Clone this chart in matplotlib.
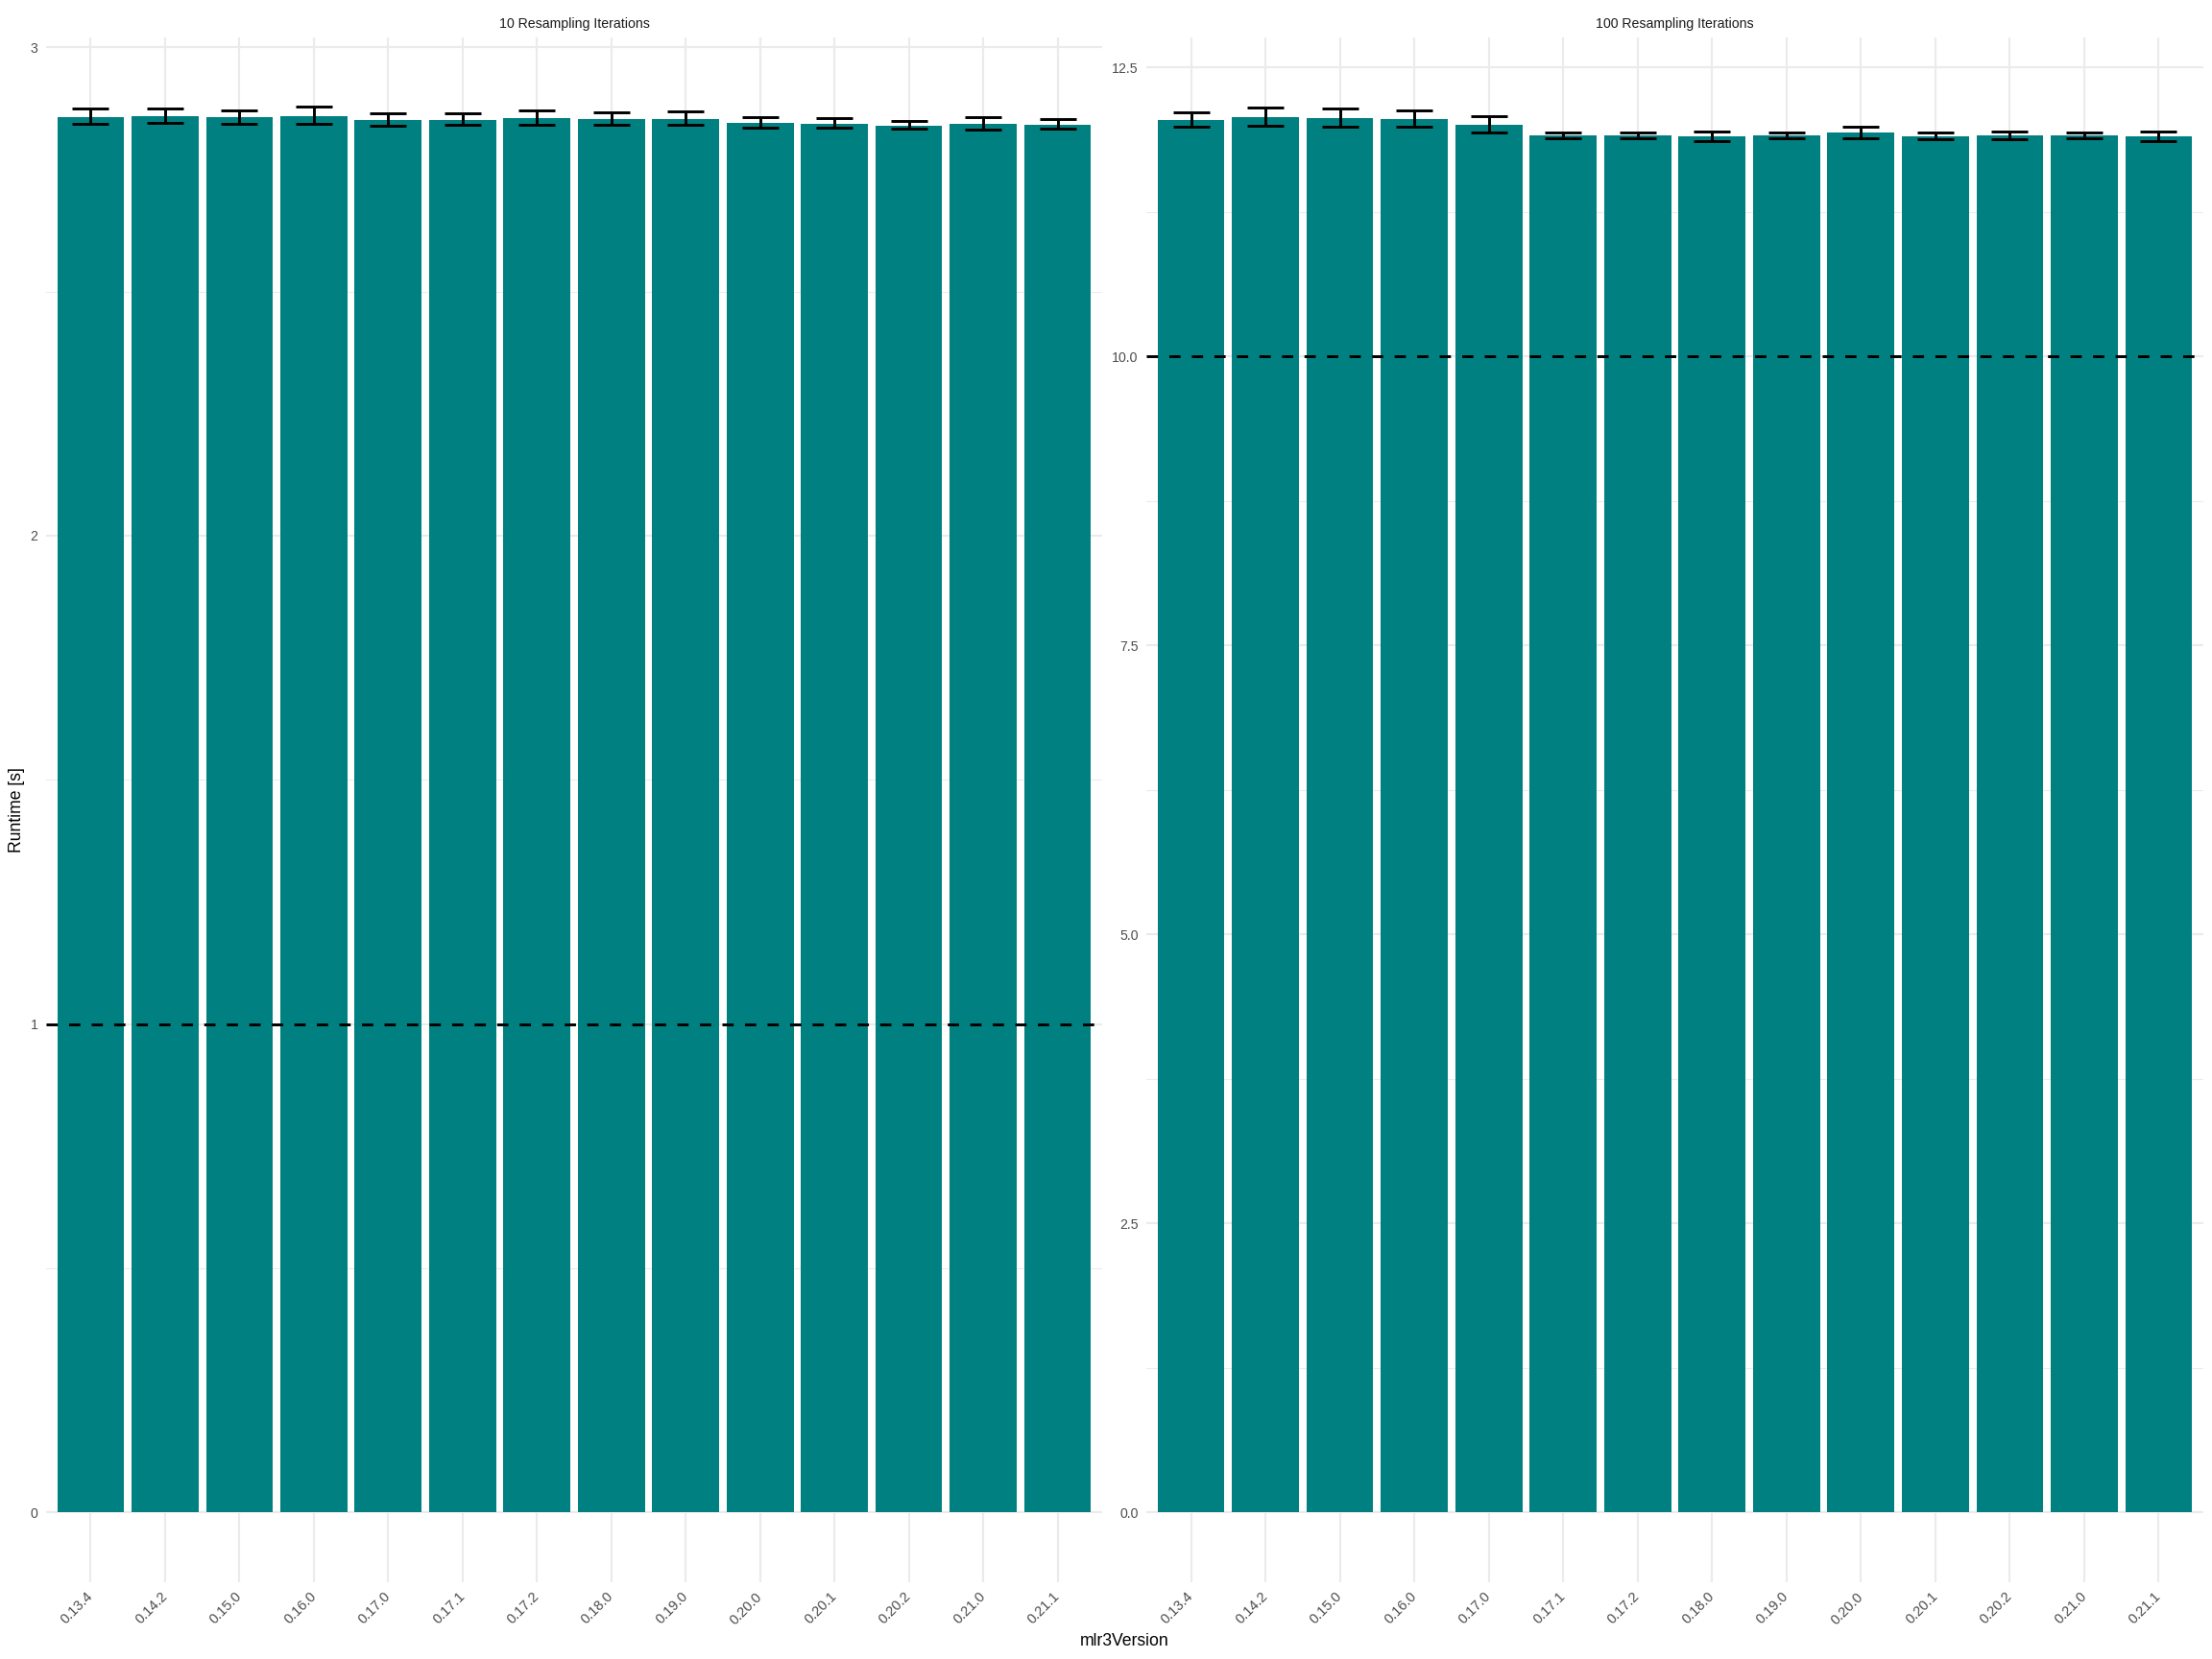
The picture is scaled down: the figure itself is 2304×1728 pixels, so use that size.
import numpy as np
import matplotlib
matplotlib.use("Agg")
import matplotlib.pyplot as plt
import matplotlib.transforms as mtransforms
from matplotlib.ticker import MultipleLocator

plt.rcParams['font.family'] = ['Liberation Sans', 'DejaVu Sans']

versions = ['0.13.4', '0.14.2', '0.15.0', '0.16.0', '0.17.0', '0.17.1', '0.17.2',
            '0.18.0', '0.19.0', '0.20.0', '0.20.1', '0.20.2', '0.21.0', '0.21.1']

# 10 resampling iterations
runtime_10 = [2.857, 2.859, 2.857, 2.859, 2.851, 2.851, 2.855,
              2.853, 2.853, 2.845, 2.843, 2.839, 2.843, 2.841]
lower_10 = [2.844, 2.846, 2.844, 2.843, 2.840, 2.841, 2.842,
            2.841, 2.841, 2.836, 2.835, 2.833, 2.832, 2.833]
upper_10 = [2.874, 2.874, 2.870, 2.878, 2.864, 2.864, 2.870,
            2.867, 2.868, 2.856, 2.854, 2.848, 2.856, 2.853]

# 100 resampling iterations
runtime_100 = [12.044, 12.069, 12.060, 12.052, 12.002, 11.911, 11.911,
               11.902, 11.911, 11.936, 11.902, 11.911, 11.911, 11.902]
lower_100 = [11.983, 11.991, 11.986, 11.983, 11.933, 11.889, 11.886,
             11.864, 11.886, 11.886, 11.880, 11.880, 11.886, 11.864]
upper_100 = [12.110, 12.154, 12.143, 12.124, 12.080, 11.936, 11.936,
             11.947, 11.936, 11.986, 11.936, 11.947, 11.939, 11.944]

reference_10 = 1
reference_100 = 10

TEAL = '#008080'
GRID = '#EBEBEB'
W, H = 2304, 1728
DPI = 192


def draw_panel(fig, ax, title, values, lower, upper, ref, ylim, major, minor, fmt):
    x = np.arange(len(versions))
    values = np.array(values)
    err = np.vstack([values - np.array(lower), np.array(upper) - values])

    ax.set_axisbelow(True)
    ax.bar(x, values, width=0.9, color=TEAL, zorder=2)
    ax.errorbar(x, values, yerr=err, fmt='none', ecolor='black',
                elinewidth=1.1, capsize=7.1, capthick=1.1, zorder=3)
    ax.axhline(ref, color='black', linewidth=1.1, linestyle=(0, (4, 4)), zorder=4)

    ax.set_xlim(-0.6, len(versions) - 0.4)
    ax.set_ylim(*ylim)
    ax.yaxis.set_major_locator(MultipleLocator(major))
    ax.yaxis.set_minor_locator(MultipleLocator(minor))
    ax.yaxis.set_major_formatter(fmt)
    ax.set_xticks(x)
    ax.set_xticklabels(versions, rotation=45, ha='right', va='center',
                       rotation_mode='anchor')
    # nudge the rotated labels a little to the right, like ggplot's hjust=1
    shift = mtransforms.ScaledTranslation(4 / DPI, 0, fig.dpi_scale_trans)
    for lab in ax.get_xticklabels():
        lab.set_transform(lab.get_transform() + shift)

    ax.grid(True, which='major', color=GRID, linewidth=0.8)
    ax.grid(True, which='minor', axis='y', color=GRID, linewidth=0.4)
    for sp in ax.spines.values():
        sp.set_visible(False)
    ax.tick_params(which='both', length=0)
    ax.tick_params(axis='y', labelsize=5.3, labelcolor='#4D4D4D', pad=3.2)
    ax.tick_params(axis='x', labelsize=5.5, labelcolor='#4D4D4D', pad=4.8)

    ax.text(0.5, 1.0087, title, transform=ax.transAxes, ha='center', va='center',
            fontsize=5.3, color='#1A1A1A')


def main():
    fig = plt.figure(figsize=(W / DPI, H / DPI), dpi=DPI)

    top, bottom = 39, 1648
    ax1 = fig.add_axes([48 / W, 1 - bottom / H, 1100 / W, (bottom - top) / H])
    ax2 = fig.add_axes([1194 / W, 1 - bottom / H, 1101 / W, (bottom - top) / H])

    draw_panel(fig, ax1, '10 Resampling Iterations', runtime_10, lower_10, upper_10,
               reference_10, (-0.143, 3.02), 1, 0.5, '{x:.0f}')
    draw_panel(fig, ax2, '100 Resampling Iterations', runtime_100, lower_100, upper_100,
               reference_100, (-0.604, 12.758), 2.5, 1.25, '{x:.1f}')

    fig.text(1171.5 / W, 1 - 1709 / H, 'mlr3Version', ha='center', va='center',
             fontsize=6.6)
    fig.text(18 / W, 1 - 843.5 / H, 'Runtime [s]', ha='center', va='center',
             rotation=90, fontsize=6.6)

    fig.savefig('out.png', dpi=DPI, facecolor='white')


if __name__ == '__main__':
    main()
